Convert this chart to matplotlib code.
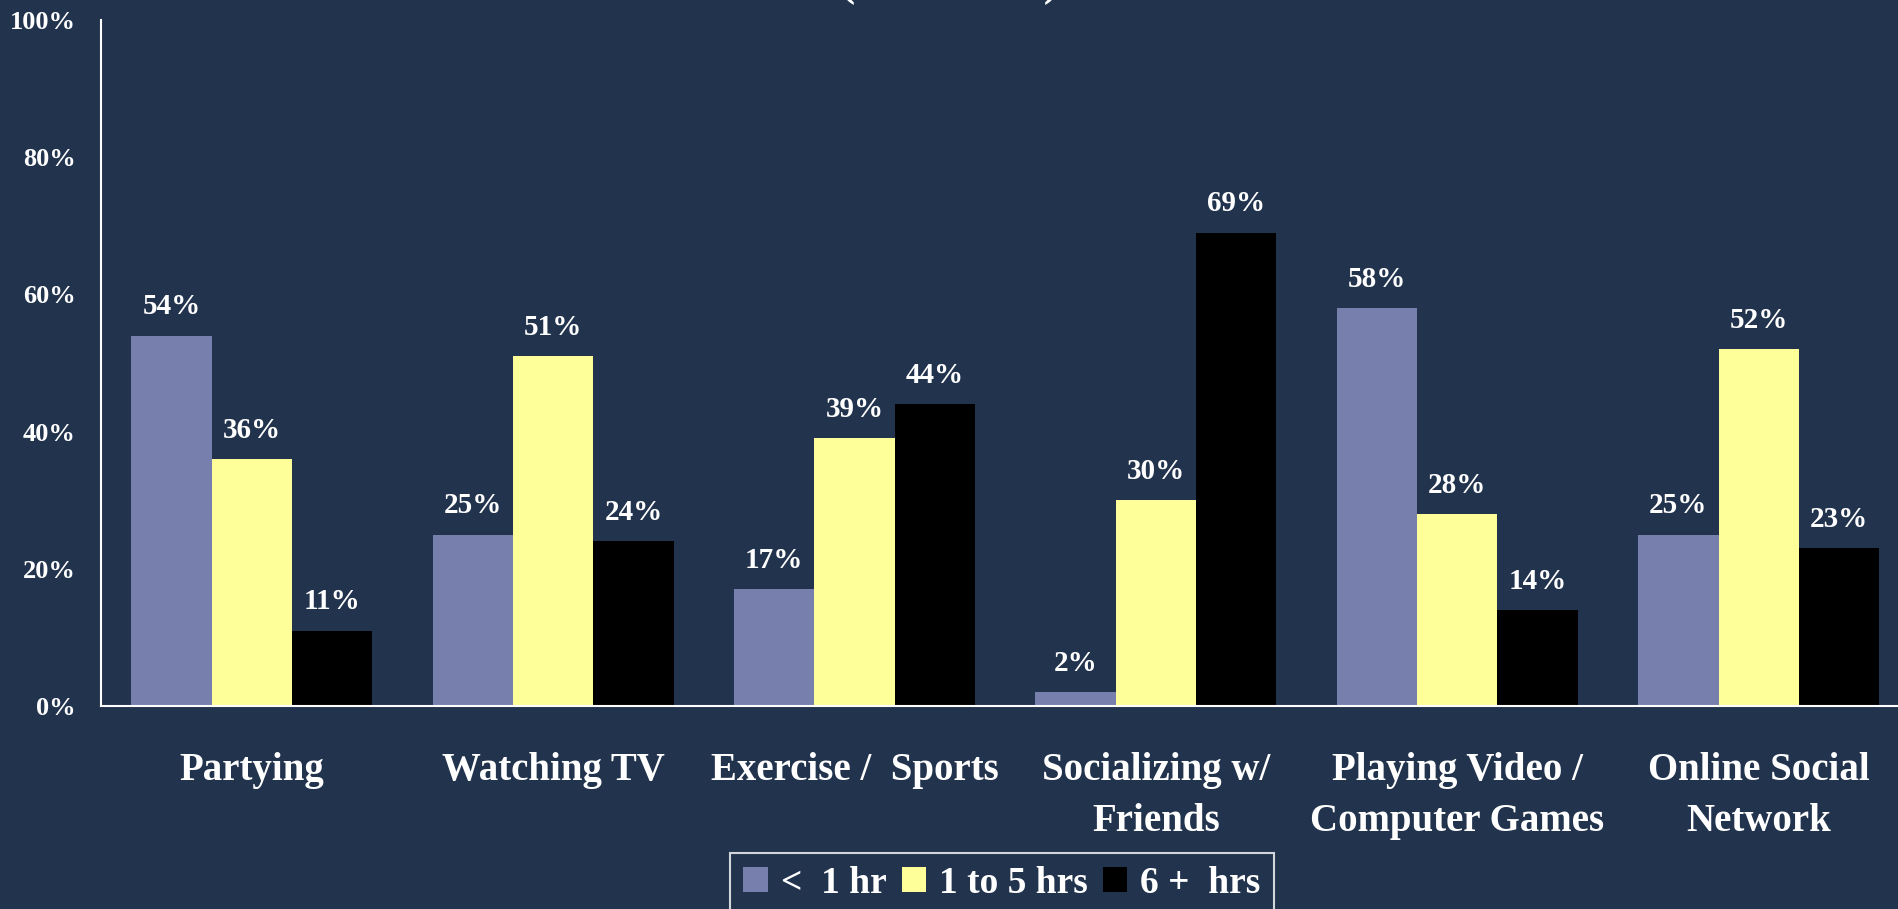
import matplotlib
matplotlib.use("Agg")
import matplotlib.pyplot as plt
import numpy as np
from matplotlib.patches import Patch

categories = ["Partying", "Watching TV", "Exercise /  Sports", "Socializing w/\nFriends",
              "Playing Video /\nComputer Games", "Online Social\nNetwork"]
series_names = ["<  1 hr", "1 to 5 hrs", "6 +  hrs"]
less_1hr = [54, 25, 17, 2, 58, 25]
one_to_5 = [36, 51, 39, 30, 28, 52]
six_plus = [11, 24, 44, 69, 14, 23]
y_ticks = [0, 20, 40, 60, 80, 100]
y_tick_labels = ["0%", "20%", "40%", "60%", "80%", "100%"]
title_text = "(Per Week)"

BG = "#22334d"
colors = ["#7780ac", "#ffff99", "#000000"]
FONT = "Liberation Serif"

W, H = 1899, 909
fig = plt.figure(figsize=(W / 100, H / 100), dpi=100)
fig.patch.set_facecolor(BG)

left = 101 / W
bottom = (H - 706) / H
height = (706 - 20) / H
width = 6 * 301.4 / W
ax = fig.add_axes([left, bottom, width, height])
ax.set_facecolor(BG)

x = np.arange(len(categories))
bw = 0.2665
for k, (vals, c) in enumerate(zip([less_1hr, one_to_5, six_plus], colors)):
    pos = x + (k - 1) * bw
    ax.bar(pos, vals, width=bw, color=c, linewidth=0, zorder=2)
    for px, v in zip(pos, vals):
        ax.annotate(f"{v}%", (px, v), xytext=(0, 11), textcoords="offset points",
                    ha="center", va="bottom", color="white", fontsize=21,
                    fontweight="bold", family=FONT)

ax.set_xlim(-0.5, len(categories) - 0.5)
ax.set_ylim(0, 100)
ax.set_yticks(y_ticks)
ax.set_yticklabels(y_tick_labels, color="white", fontsize=19, fontweight="bold", family=FONT)
ax.set_xticks(x)
ax.set_xticklabels(categories, color="white", fontsize=28, fontweight="bold", family=FONT,
                   linespacing=1.5)
ax.tick_params(axis="both", length=0)
ax.tick_params(axis="y", pad=18)
ax.tick_params(axis="x", pad=33)
for s in ["top", "right"]:
    ax.spines[s].set_visible(False)
for s in ["left", "bottom"]:
    ax.spines[s].set_color("white")
    ax.spines[s].set_linewidth(1.5)

# title sits mostly above the top edge; only the parentheses' tails show
fig.text(0.5, 1.0 + 5 / H, title_text, ha="center", va="baseline", color="white",
         fontsize=33, fontweight="bold", family=FONT)

handles = [Patch(facecolor=c, edgecolor="none") for c in colors]
leg = fig.legend(handles, series_names, loc="upper center",
                 bbox_to_anchor=(1002 / W, (H - 853) / H), ncol=3, frameon=True,
                 prop={"family": FONT, "size": 27, "weight": "bold"},
                 handlelength=0.65, handleheight=0.65, handletextpad=0.35,
                 columnspacing=0.4, borderpad=0.35, borderaxespad=0,
                 fancybox=False, labelcolor="white")
leg.get_frame().set_facecolor(BG)
leg.get_frame().set_edgecolor("white")
leg.get_frame().set_linewidth(1.5)

fig.savefig("out.png", dpi=100, facecolor=BG)
